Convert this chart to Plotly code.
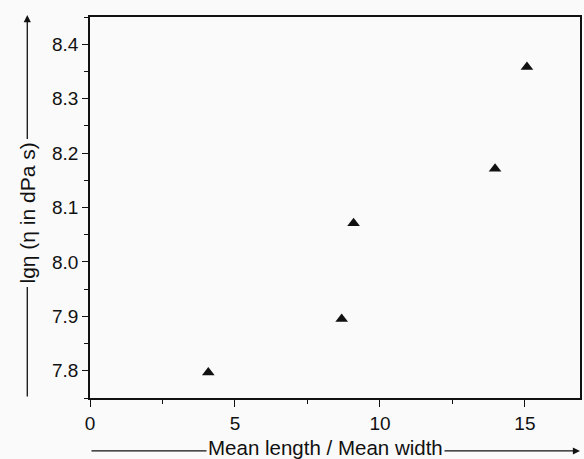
import plotly.graph_objects as go

# Data
aspect_ratio = [4.08, 8.68, 9.09, 13.97, 15.07]
lg_viscosity = [7.797, 7.895, 8.071, 8.171, 8.358]

x_tick_vals = [0, 5, 10, 15]
y_tick_vals = [7.8, 7.9, 8.0, 8.1, 8.2, 8.3, 8.4]
y_tick_text = ["7.8", "7.9", "8.0", "8.1", "8.2", "8.3", "8.4"]

BG = "#fafafa"
INK = "#111111"
FONT = "Arial, Liberation Sans, Helvetica, sans-serif"

fig = go.Figure()
fig.add_trace(go.Scatter(
    x=aspect_ratio, y=lg_viscosity, mode="markers",
    marker=dict(symbol="triangle-up", size=11, color=INK),
    showlegend=False,
))

fig.update_layout(
    width=584, height=459,
    margin=dict(l=90, r=2, t=17, b=61),
    paper_bgcolor=BG, plot_bgcolor=BG,
    font=dict(family=FONT, size=19, color=INK),
)

fig.update_xaxes(
    range=[0, 16.9], tickvals=x_tick_vals,
    showgrid=False, zeroline=False,
    showline=True, linecolor=INK, linewidth=1.5, mirror=True,
    ticks="outside", ticklen=7, tickwidth=1.3, tickcolor=INK,
    minor=dict(dtick=2.5, tick0=0, ticks="outside", ticklen=4, tickwidth=1.2, tickcolor=INK),
    tickfont=dict(size=19),
)
fig.update_yaxes(
    range=[7.75, 8.45], tickvals=y_tick_vals, ticktext=y_tick_text,
    showgrid=False, zeroline=False,
    showline=True, linecolor=INK, linewidth=1.5, mirror=True,
    ticks="outside", ticklen=6, tickwidth=1.3, tickcolor=INK,
    minor=dict(dtick=0.05, tick0=7.75, ticks="outside", ticklen=4, tickwidth=1.2, tickcolor=INK),
    tickfont=dict(size=19),
)

# Arrowed axis-title lines
fig.add_annotation(
    xref="paper", yref="paper", x=-0.128, y=1.005, ax=0, ay=383,
    text="", showarrow=True, arrowhead=2, arrowsize=1.1, arrowwidth=1.3, arrowcolor=INK,
)
fig.add_annotation(
    xref="paper", yref="paper", x=1.0, y=-0.139, ax=-490, ay=0,
    text="", showarrow=True, arrowhead=2, arrowsize=1.1, arrowwidth=1.3, arrowcolor=INK,
)

# Axis titles over the lines
fig.add_annotation(
    xref="paper", yref="paper", x=-0.128, y=0.485,
    xanchor="center", yanchor="middle",
    text="lgη (η in dPa s)", textangle=-90, showarrow=False,
    bgcolor=BG, borderpad=3, font=dict(size=21, color=INK, family=FONT),
)
fig.add_annotation(
    xref="paper", yref="paper", x=0.48, y=-0.129,
    xanchor="center", yanchor="middle",
    text="Mean length / Mean width", showarrow=False,
    bgcolor=BG, borderpad=1, font=dict(size=20.5, color=INK, family=FONT),
)

fig.write_html("out.html", config={"displayModeBar": False},
               post_script="document.body.style.margin='0';")
